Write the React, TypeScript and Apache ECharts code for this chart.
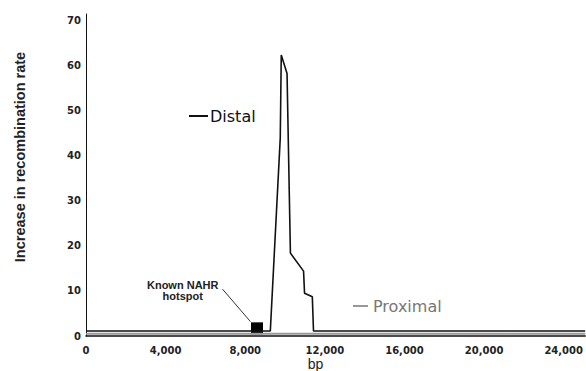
import React, { useEffect, useRef } from "react";
import * as echarts from "echarts";

const distalX = [0, 9260, 9760, 9810, 10100, 10270, 10930, 10980, 11370, 11430, 25080];
const distalY = [1.1, 1.1, 44, 62.4, 58.3, 18.4, 14.4, 9.5, 8.7, 1.1, 1.1];
const proximalX = [0, 25080];
const proximalY = [0.5, 0.5];
const hotspot = [8590, 1.7];
const leaderFrom = [8260, 3.2];
const leaderTo = [6860, 10.4];
const hotspotLabelAt = [4860, 10.2];
const xTicks = [0, 4000, 8000, 12000, 16000, 20000, 24000];
const yTicks = [0, 10, 20, 30, 40, 50, 60, 70];

export default function App() {
  const ref = useRef<HTMLDivElement>(null);
  useEffect(() => {
    if (!ref.current) return;
    const chart = echarts.init(ref.current, null, { renderer: "svg" });
    const tickFont = { fontFamily: "DejaVu Sans", fontWeight: "bold", fontSize: 10, color: "#222" };
    chart.setOption({
      animation: false,
      backgroundColor: "#fff",
      grid: { left: 86, right: 0, top: 14, bottom: 35, containLabel: false },
      xAxis: {
        type: "value",
        min: xTicks[0],
        max: 25080,
        interval: xTicks[1] - xTicks[0],
        axisLine: { show: true, lineStyle: { color: "#111", width: 1.5 } },
        axisTick: { show: false },
        splitLine: { show: false },
        axisLabel: {
          ...tickFont,
          margin: 9,
          showMaxLabel: false,
          formatter: (v: number) => (xTicks.includes(v) ? v.toLocaleString("en-US") : ""),
        },
      },
      yAxis: {
        type: "value",
        min: yTicks[0],
        max: 71.5,
        interval: yTicks[1] - yTicks[0],
        axisLine: { show: true, lineStyle: { color: "#111", width: 1 } },
        axisTick: { show: false },
        splitLine: { show: false },
        axisLabel: {
          ...tickFont,
          margin: 5,
          showMaxLabel: false,
          formatter: (v: number) => (yTicks.includes(v) ? String(v) : ""),
        },
      },
      legend: [
        {
          data: ["Distal"],
          left: 189,
          top: 108,
          padding: 0,
          icon: "rect",
          itemWidth: 19,
          itemHeight: 2,
          textStyle: { fontFamily: "DejaVu Sans", fontSize: 16, color: "#111", padding: [0, 0, 0, -3] },
        },
        {
          data: ["Proximal"],
          left: 353,
          top: 298,
          padding: 0,
          icon: "rect",
          itemWidth: 15,
          itemHeight: 2,
          textStyle: { fontFamily: "DejaVu Sans", fontSize: 16, color: "#777" },
        },
      ],
      series: [
        {
          name: "Proximal",
          type: "line",
          symbol: "none",
          data: proximalX.map((x, i) => [x, proximalY[i]]),
          lineStyle: { color: "#999", width: 2.2 },
          itemStyle: { color: "#999" },
        },
        {
          name: "Distal",
          type: "line",
          symbol: "none",
          data: distalX.map((x, i) => [x, distalY[i]]),
          lineStyle: { color: "#111", width: 1.6 },
          itemStyle: { color: "#111" },
        },
        {
          name: "Hotspot",
          type: "scatter",
          symbol: "rect",
          symbolSize: 12,
          data: [hotspot],
          itemStyle: { color: "#000", opacity: 1 },
          markLine: {
            silent: true,
            symbol: ["none", "none"],
            label: { show: false },
            lineStyle: { color: "#333", width: 1, type: "solid" },
            data: [[{ coord: leaderFrom }, { coord: leaderTo }]],
          },
          markPoint: {
            silent: true,
            symbol: "circle",
            symbolSize: 1,
            itemStyle: { color: "rgba(0,0,0,0)" },
            label: {
              show: true,
              position: "inside",
              formatter: "Known NAHR\nhotspot",
              fontFamily: "Liberation Sans",
              fontWeight: "bold",
              fontSize: 11,
              lineHeight: 11,
              color: "#222",
              align: "center",
            },
            data: [{ coord: hotspotLabelAt }],
          },
        },
      ],
      graphic: [
        {
          type: "text",
          x: 20,
          y: 157,
          rotation: Math.PI / 2,
          style: {
            text: "Increase in recombination rate",
            font: "bold 14.5px 'Liberation Sans'",
            fill: "#222",
            textAlign: "center",
            textVerticalAlign: "middle",
          },
        },
        {
          type: "text",
          x: 315.5,
          y: 364,
          style: {
            text: "bp",
            font: "14px 'Liberation Sans'",
            fill: "#222",
            textAlign: "center",
            textVerticalAlign: "middle",
          },
        },
      ],
    });
    return () => chart.dispose();
  }, []);
  return (
    <div
      ref={ref}
      style={{ position: "absolute", left: 0, top: 0, width: 586, height: 371 }}
    />
  );
}
